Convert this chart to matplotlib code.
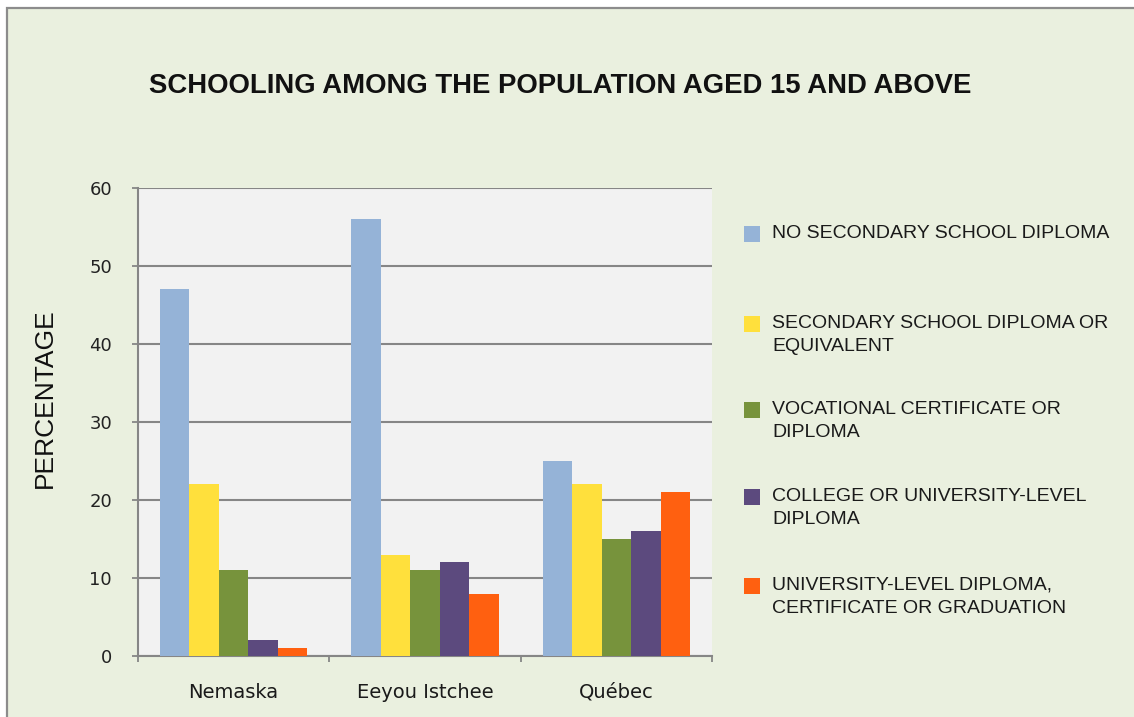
import matplotlib
matplotlib.use("Agg")
import matplotlib.pyplot as plt
from matplotlib.patches import Rectangle
import numpy as np

# Data
regions = ["Nemaska", "Eeyou Istchee", "Québec"]
levels = [
    "NO SECONDARY SCHOOL DIPLOMA",
    "SECONDARY SCHOOL DIPLOMA OR\nEQUIVALENT",
    "VOCATIONAL CERTIFICATE OR\nDIPLOMA",
    "COLLEGE OR UNIVERSITY-LEVEL\nDIPLOMA",
    "UNIVERSITY-LEVEL DIPLOMA,\nCERTIFICATE OR GRADUATION",
]
no_secondary = [47, 56, 25]
secondary = [22, 13, 22]
vocational = [11, 11, 15]
college = [2, 12, 16]
university = [1, 8, 21]
series = [no_secondary, secondary, vocational, college, university]
colors = ["#95B3D7", "#FFE03C", "#77933C", "#5C4A7E", "#FF6010"]
y_ticks = [0, 10, 20, 30, 40, 50, 60]

W, H = 1134, 717
PX = 72 / 100  # points per pixel at 100 dpi
fig = plt.figure(figsize=(W / 100, H / 100), dpi=100)
fig.patch.set_facecolor("white")

# Chart background panel with its border
fig.patches.append(Rectangle((7 / W, -0.01), 1.02, (H - 8) / H + 0.01,
                             transform=fig.transFigure, facecolor="#EAF0DF",
                             edgecolor="#8C8C8C", linewidth=1.6, zorder=-5))

ax = fig.add_axes([138 / W, (H - 656) / H, (712 - 138) / W, (656 - 188) / H])
ax.set_zorder(1)
ax.set_facecolor("#F2F2F2")

x = np.arange(len(regions))
bw = 0.154
for i, (vals, col) in enumerate(zip(series, colors)):
    ax.bar(x + (i - 2) * bw, vals, width=bw, color=col, zorder=3, linewidth=0)

ax.set_xlim(-0.5, 2.5)
ax.set_ylim(0, 60)
ax.set_yticks(y_ticks)
ax.set_yticklabels([str(v) for v in y_ticks], fontsize=13, color="#222222",
                   family="DejaVu Sans")
ax.yaxis.grid(True, color="#868686", linewidth=1.5, zorder=1)
ax.set_axisbelow(True)

ax.set_xticks(x)
ax.set_xticklabels(regions, fontsize=14, color="#1a1a1a", family="DejaVu Sans")
ax.set_xticks([-0.5, 0.5, 1.5, 2.5], minor=True)
ax.tick_params(axis="x", which="major", length=0, pad=27 * PX)
ax.tick_params(axis="x", which="minor", length=6 * PX, color="#868686", width=1.3)
ax.tick_params(axis="y", length=6 * PX, color="#868686", width=1.3, pad=20 * PX)

for s in ["top", "right"]:
    ax.spines[s].set_visible(False)
for s in ["left", "bottom"]:
    ax.spines[s].set_color("#868686")
    ax.spines[s].set_linewidth(1.5)

ax.set_ylabel("PERCENTAGE", fontsize=19, family="Liberation Sans",
              color="#111111", va="center")
ax.yaxis.set_label_coords((45 - 138) / 574, (656 - 398) / 468)

fig.text(560 / W, 1 - 86 / H, "SCHOOLING AMONG THE POPULATION AGED 15 AND ABOVE",
         ha="center", va="center", fontsize=19.8, fontweight="bold",
         family="Liberation Sans", color="#111111")

# Legend entries, drawn in the right-hand panel
first_line_y = [234, 324, 410, 497, 586]
for label, col, yy in zip(levels, colors, first_line_y):
    fig.patches.append(Rectangle((744 / W, 1 - (yy + 8) / H), 16 / W, 16 / H,
                                 transform=fig.transFigure, facecolor=col,
                                 edgecolor="none", zorder=2))
    fig.text(772 / W, 1 - (yy - 9) / H, label, ha="left", va="top",
             fontsize=14, family="Liberation Sans", color="#1a1a1a",
             linespacing=1.45)

fig.savefig("out.png", dpi=100, facecolor=fig.get_facecolor())
